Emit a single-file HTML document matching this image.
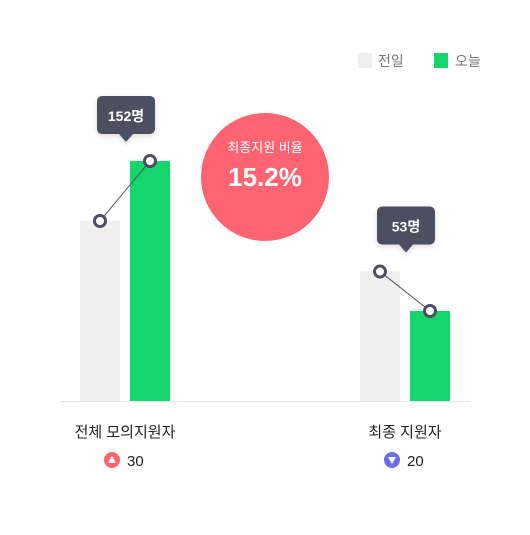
<!DOCTYPE html>
<html><head><meta charset="utf-8"><style>
body{margin:0;background:#fff;}
svg text{font-family:"Liberation Sans","Noto Sans CJK KR",sans-serif;}
</style></head><body>
<svg width="530" height="530" viewBox="0 0 530 530">
<defs><filter id="sh" x="-30%" y="-30%" width="160%" height="160%"><feDropShadow dx="0" dy="2" stdDeviation="3" flood-color="#000" flood-opacity="0.15"/></filter></defs>
<g>
<rect x="358" y="53" width="14" height="15" fill="#efefef"/>
<text x="378" y="66" font-size="14" fill="#777">전일</text>
<rect x="434" y="53" width="14" height="15" fill="#14d66c"/>
<text x="455" y="66" font-size="14" fill="#777">오늘</text>
</g>
<line x1="60" y1="401.5" x2="470" y2="401.5" stroke="#e6e6e6"/>
<g id="plot"></g>
<g>
<circle cx="265" cy="177" r="64" fill="#ff6470"/>
<text x="265" y="152" font-size="13" fill="#fff" text-anchor="middle">최종지원 비율</text>
<text x="265" y="186" font-size="26" font-weight="bold" fill="#fff" text-anchor="middle">15.2%</text>
</g>
</svg>
<script>
const categories=["전체 모의지원자","최종 지원자"];
const yesterdayValues=[114,82];
const todayValues=[152,57];
const tooltipLabels=["152명","53명"];
const changeValues=["30","20"];
const changeDirs=["up","down"];
const NS="http://www.w3.org/2000/svg";
const g=document.getElementById('plot');
const base=401, scale=240/152;
const groupX=[80,360];
function y(v){return base-v*scale;}
function mk(t,a){const e=document.createElementNS(NS,t);for(const k in a)e.setAttribute(k,a[k]);g.appendChild(e);return e;}
categories.forEach((c,i)=>{
 const x0=groupX[i];
 const yy=y(yesterdayValues[i]), yt=y(todayValues[i]);
 let r=mk('rect',{x:x0,y:yy,width:40,height:base-yy,fill:'#efefef'});
 
 
 r=mk('rect',{x:x0+50,y:yt,width:40,height:base-yt,fill:'#14d66c'});
 
 
 let l=mk('line',{x1:x0+20,y1:yy,x2:x0+70,y2:yt,stroke:'#555',"stroke-width":1});
 
 
 [[x0+20,yy],[x0+70,yt]].forEach((p,j)=>{
  const ci=mk('circle',{cx:p[0],cy:p[1],r:5.5,fill:'#fff',stroke:'#4b4f5e',"stroke-width":3});
  
  
 });
 const hy=Math.min(yy,yt), tx=x0+46, ty=hy-65;
 const tg=mk('g',{filter:'url(#sh)'});
 
 
 const rr=document.createElementNS(NS,'rect');
 [['x',tx-29],['y',ty],['width',58],['height',38],['rx',5],['fill','#4b4f5e']].forEach(a=>rr.setAttribute(a[0],a[1]));
 tg.appendChild(rr);
 const pg=document.createElementNS(NS,'polygon');
 pg.setAttribute('points',`${tx-7},${ty+38} ${tx+7},${ty+38} ${tx},${ty+46}`);
 pg.setAttribute('fill','#4b4f5e');tg.appendChild(pg);
 const tt=document.createElementNS(NS,'text');
 [['x',tx],['y',ty+25],['text-anchor','middle'],['font-size','14'],['font-weight','bold'],['fill','#fff']].forEach(a=>tt.setAttribute(a[0],a[1]));
 tt.textContent=tooltipLabels[i];tg.appendChild(tt);
 const cx=x0+45;
 const lab=mk('text',{x:cx,y:437,"text-anchor":"middle","font-size":15,fill:'#222'});
 lab.textContent=c;
 
 
 const up=changeDirs[i]==='up';
 const ic=mk('circle',{cx:cx-13,cy:460,r:8,fill:up?'#ff6470':'#6c6ce6'});
 
 
 mk('polygon',{points:up?`${cx-17},${463} ${cx-9},${463} ${cx-13},${456}`:`${cx-17},${457} ${cx-9},${457} ${cx-13},${464}`,fill:'#fff'});
 const cv=mk('text',{x:cx+2,y:466,"font-size":15,fill:'#222'});
 cv.textContent=changeValues[i];
 
 
});
</script>
</body></html>
